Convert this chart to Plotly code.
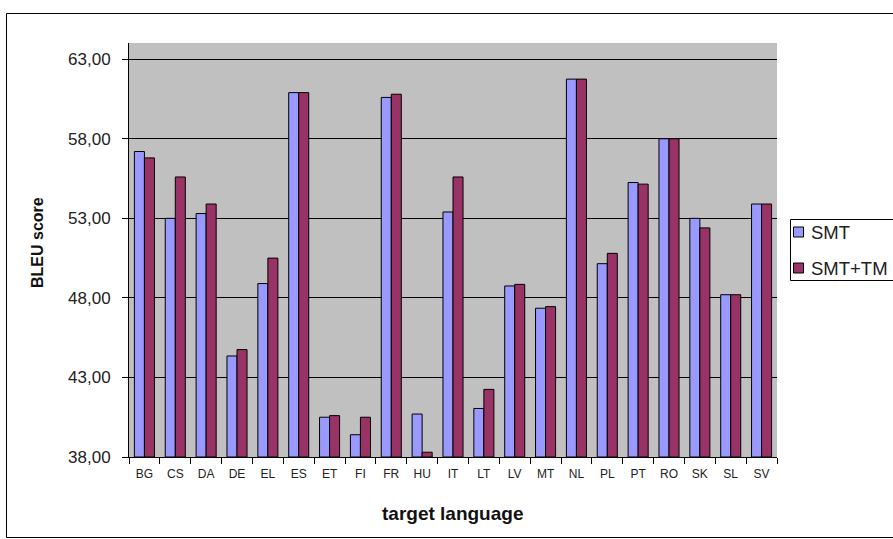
import plotly.graph_objects as go

# BLEU scores per target language
languages = ["BG", "CS", "DA", "DE", "EL", "ES", "ET", "FI", "FR", "HU", "IT",
             "LT", "LV", "MT", "NL", "PL", "PT", "RO", "SK", "SL", "SV"]
smt = [57.2, 53.0, 53.3, 44.35, 48.9, 60.9, 40.5, 39.4, 60.6, 40.7, 53.4,
       41.05, 48.75, 47.35, 61.75, 50.15, 55.25, 58.0, 53.0, 48.2, 53.9]
smt_tm = [56.8, 55.6, 53.9, 44.75, 50.5, 60.9, 40.6, 40.5, 60.8, 38.3, 55.6,
          42.25, 48.85, 47.45, 61.75, 50.8, 55.15, 58.0, 52.4, 48.2, 53.9]

series_names = ["SMT", "SMT+TM"]
series_colors = ["#9999FF", "#993366"]

y_floor = 38
y_tickvals = [38, 43, 48, 53, 58, 63]
y_ticktext = ["38,00", "43,00", "48,00", "53,00", "58,00", "63,00"]

# Page geometry (pixels)
W, H = 893, 539
PL, PR, PT, PB = 129, 777, 43, 457


def px_x(x):
    return (x - PL) / (PR - PL)


def px_y(y):
    return (PB - y) / (PB - PT)


fig = go.Figure()
# bars rise from the axis floor at 38
for name, vals, col in zip(series_names, [smt, smt_tm], series_colors):
    fig.add_trace(go.Bar(
        x=languages, y=[v - y_floor for v in vals], base=y_floor, name=name,
        marker=dict(color=col, line=dict(color="black", width=1)),
        showlegend=False,
    ))

font = "Liberation Sans, Arial, sans-serif"

fig.update_layout(
    width=W, height=H,
    margin=dict(l=PL, r=W - PR, t=PT, b=H - PB, autoexpand=False),
    paper_bgcolor="white",
    plot_bgcolor="#C0C0C0",
    barmode="group",
    bargap=0.35,
    bargroupgap=0,
    font=dict(family=font, color="#222222"),
    xaxis=dict(
        type="category",
        showgrid=False,
        showline=True, linecolor="black", linewidth=1,
        ticks="outside", tickson="boundaries", ticklen=6, tickcolor="black",
        tickfont=dict(size=12, color="#222222"),
        ticklabelstandoff=6,
    ),
    yaxis=dict(
        range=[38, 64.02],
        tickvals=y_tickvals, ticktext=y_ticktext,
        showgrid=True, gridcolor="black", gridwidth=1,
        showline=True, linecolor="black", linewidth=1,
        ticks="outside", ticklen=6, tickcolor="black",
        tickfont=dict(size=17, color="#222222"),
        ticklabelstandoff=8,
        zeroline=False,
    ),
)

# outer chart frame
fig.add_shape(type="rect", xref="paper", yref="paper",
              x0=px_x(6.5), x1=px_x(1000), y0=px_y(537.5), y1=px_y(13.5),
              line=dict(color="black", width=1), fillcolor="rgba(0,0,0,0)",
              layer="below")

# axis titles
fig.add_annotation(text="<b>target language</b>", xref="paper", yref="paper",
                   x=px_x(452.5), y=px_y(513), showarrow=False,
                   font=dict(size=19, color="#111111"), xanchor="center", yanchor="middle")
fig.add_annotation(text="<b>BLEU score</b>", xref="paper", yref="paper",
                   x=px_x(37), y=px_y(243), showarrow=False, textangle=-90,
                   font=dict(size=16, color="#111111"), xanchor="center", yanchor="middle")

# legend box with entries
fig.add_shape(type="rect", xref="paper", yref="paper",
              x0=px_x(790.5), x1=px_x(1000), y0=px_y(280.5), y1=px_y(219.5),
              line=dict(color="black", width=1), fillcolor="white")
rows_y = [232, 268]
for name, col, ry in zip(series_names, series_colors, rows_y):
    fig.add_shape(type="rect", xref="paper", yref="paper",
                  x0=px_x(793.5), x1=px_x(803.5), y0=px_y(ry + 5), y1=px_y(ry - 5),
                  line=dict(color="black", width=1), fillcolor=col)
    fig.add_annotation(text=name, xref="paper", yref="paper",
                       x=px_x(809), y=px_y(ry), showarrow=False,
                       xanchor="left", yanchor="middle",
                       font=dict(size=18.5, color="#222222"))

fig.write_html("out.html")
